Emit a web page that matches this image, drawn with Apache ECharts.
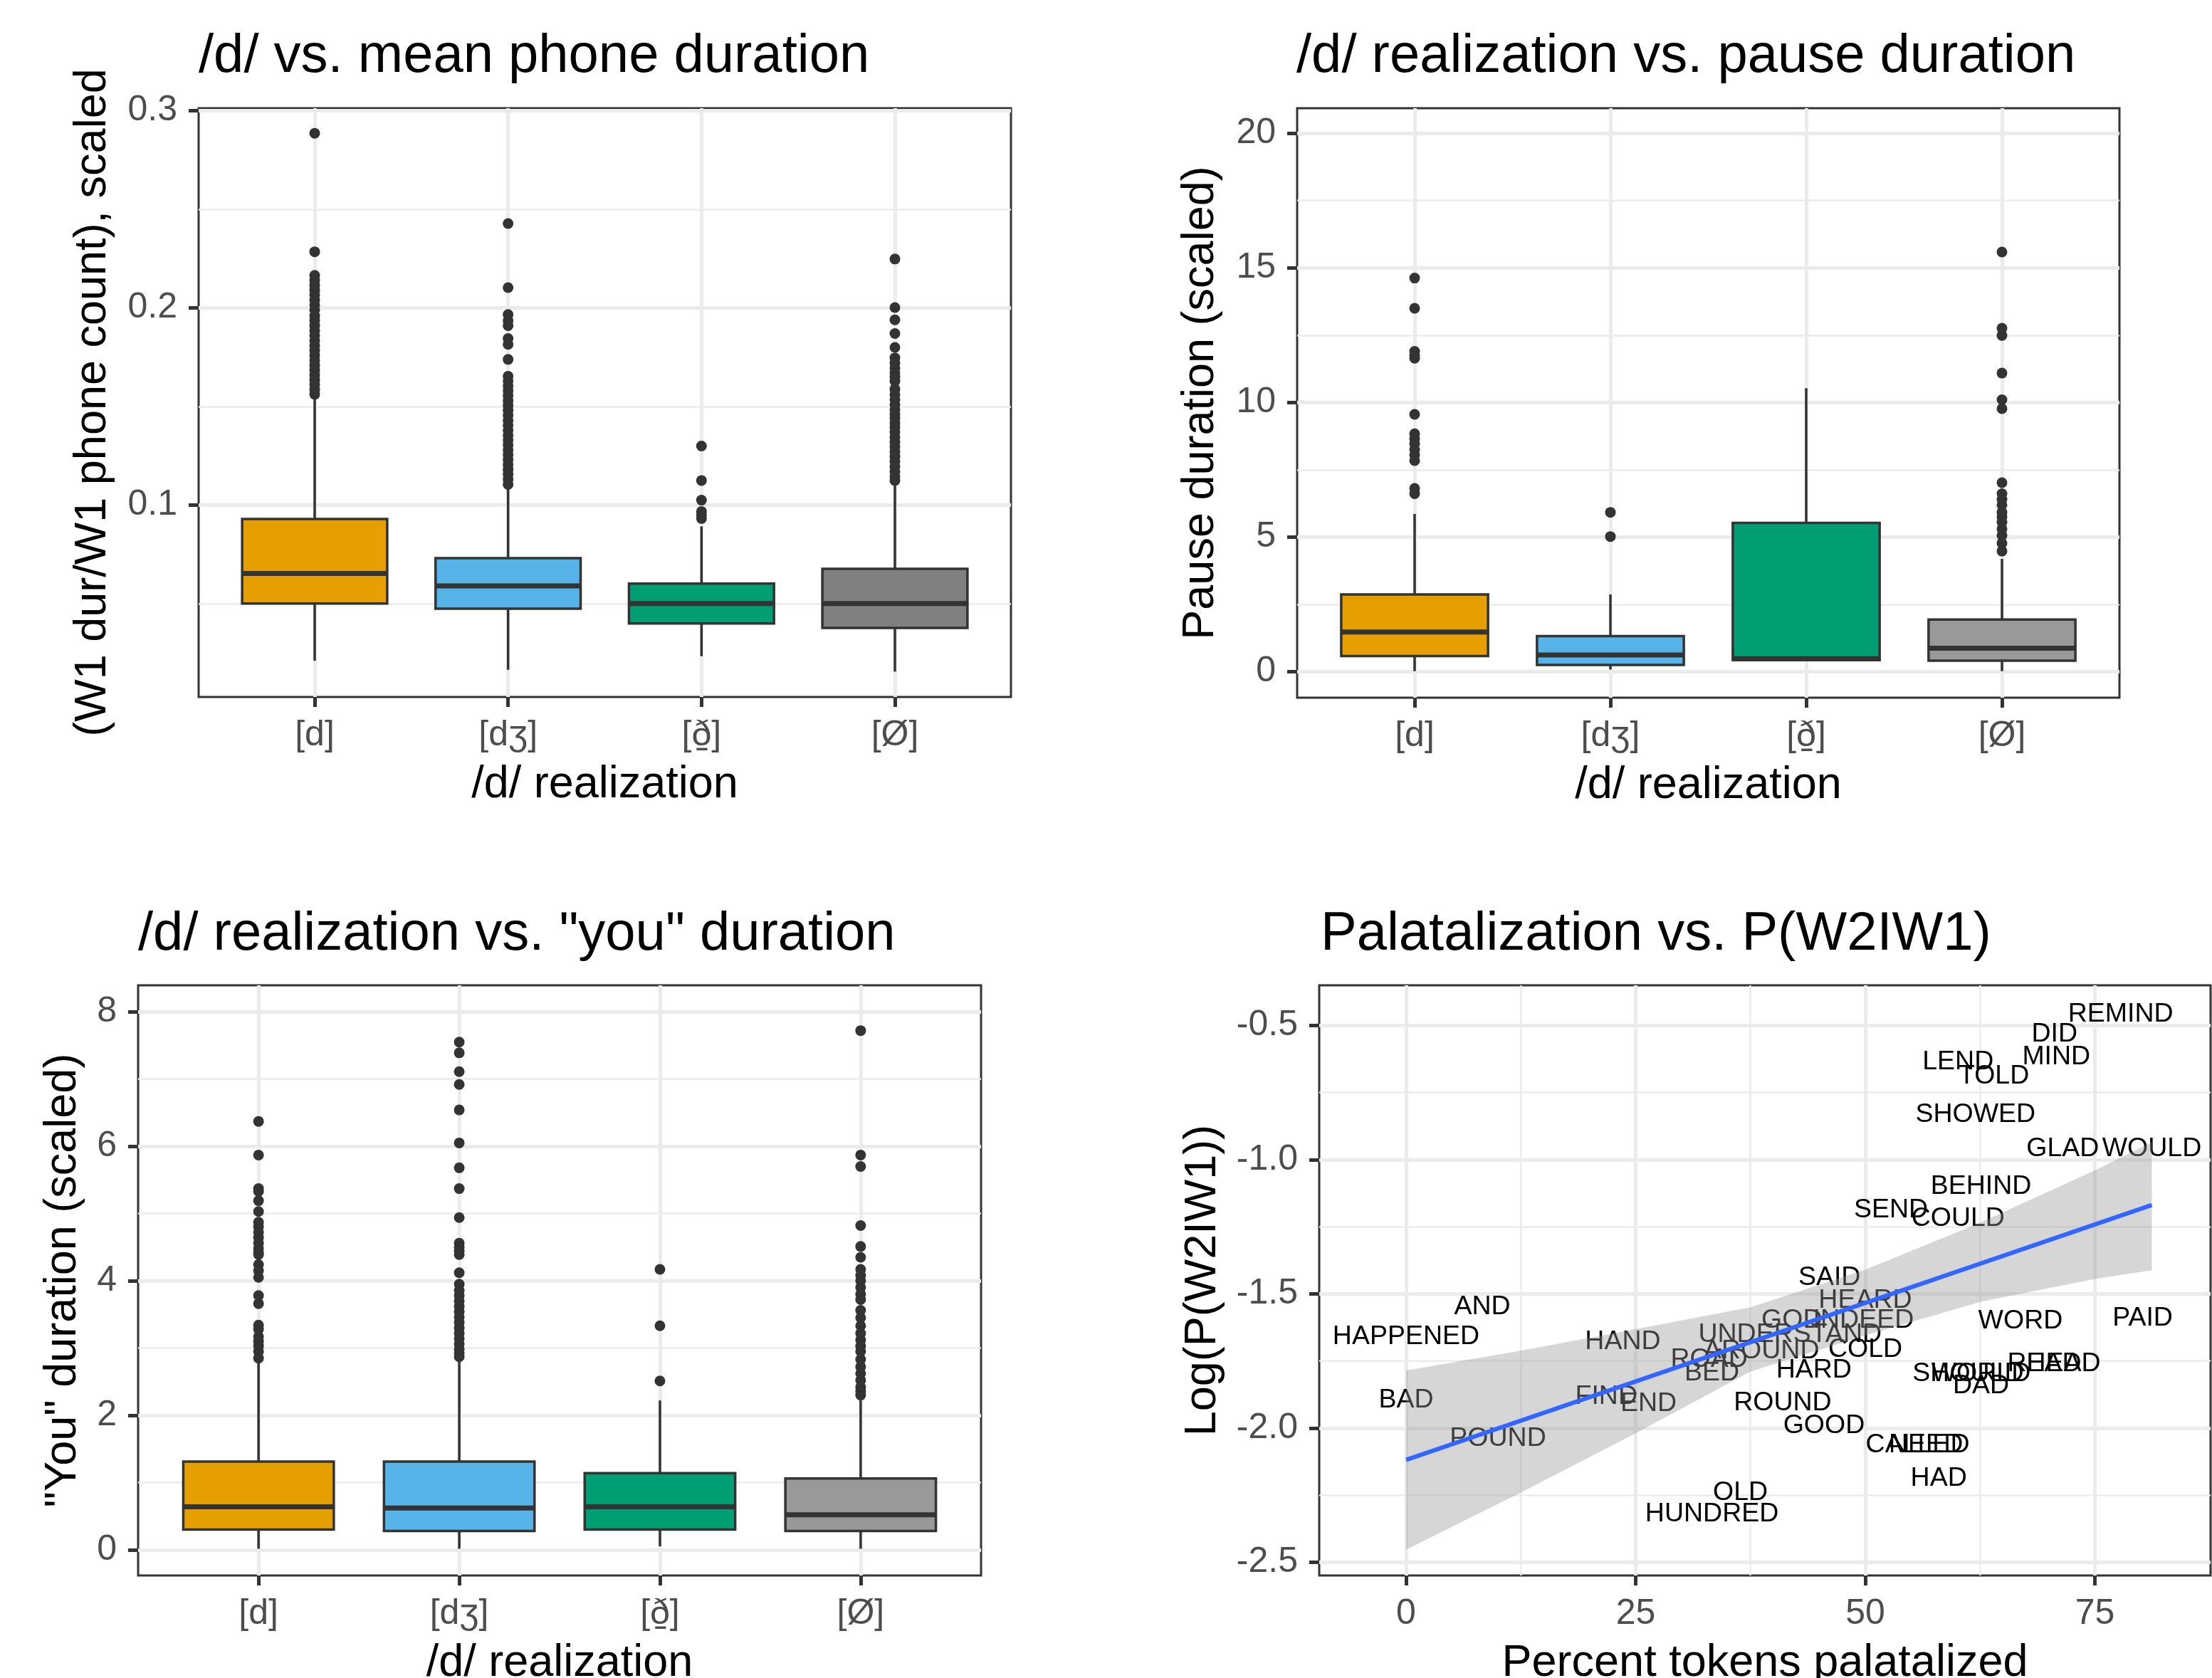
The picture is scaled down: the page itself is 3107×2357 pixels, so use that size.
<!DOCTYPE html>
<html>
<head>
<meta charset="utf-8">
<title>/d/ realization</title>
<script src="https://cdn.jsdelivr.net/npm/echarts@6/dist/echarts.min.js"></script>
<style>
    html, body { margin: 0; padding: 0; background: #fff; }
    #main { width: 3107px; height: 2357px; }
</style>
</head>
<body>
<div id="main"></div>
<script>
// categories of the /d/ realization
var categories = ['[d]', '[dʒ]', '[ð̠]', '[Ø]'];
var catPos = [1, 2, 3, 4];

// box stats per category: [lower whisker, Q1, median, Q3, upper whisker]
var durStats = [
    [0.0211, 0.0501, 0.0653, 0.0930, 0.1536],
    [0.0165, 0.0475, 0.0590, 0.0731, 0.1082],
    [0.0234, 0.0400, 0.0501, 0.0602, 0.0892],
    [0.0156, 0.0377, 0.0501, 0.0677, 0.1113]
];
var durOut = [
    [0.2886, 0.2285, 0.2165, 0.2140, 0.2115, 0.2090, 0.2065, 0.2040, 0.2015, 0.1990, 0.1960, 0.1935, 0.1910, 0.1885,
     0.1860, 0.1835, 0.1810, 0.1785, 0.1760, 0.1735, 0.1710, 0.1685, 0.1660, 0.1635, 0.1610, 0.1585, 0.1562],
    [0.2428, 0.2103, 0.1967, 0.1935, 0.1910, 0.1845, 0.1815, 0.1739, 0.1654, 0.1630, 0.1605, 0.1580, 0.1555, 0.1530,
     0.1505, 0.1480, 0.1455, 0.1430, 0.1405, 0.1380, 0.1355, 0.1330, 0.1305, 0.1280, 0.1255, 0.1230, 0.1205, 0.1180,
     0.1155, 0.1130, 0.1105],
    [0.1300, 0.1125, 0.1025, 0.0968, 0.0950, 0.0932],
    [0.2248, 0.2002, 0.1940, 0.1870, 0.1800, 0.1747, 0.1720, 0.1695, 0.1670, 0.1650, 0.1628, 0.1588, 0.1560, 0.1535,
     0.1510, 0.1485, 0.1460, 0.1442, 0.1417, 0.1395, 0.1370, 0.1345, 0.1320, 0.1295, 0.1270, 0.1245, 0.1220, 0.1195,
     0.1170, 0.1145, 0.1125]
];

var pauseStats = [
    [0.02, 0.58, 1.475, 2.87, 5.86],
    [0.08, 0.25, 0.62, 1.32, 2.87],
    [0.43, 0.43, 0.48, 5.53, 10.53],
    [0.02, 0.41, 0.87, 1.94, 4.19]
];
var pauseOut = [
    [14.62, 13.50, 11.90, 11.75, 11.64, 9.56, 8.84, 8.65, 8.46, 8.25, 8.05, 7.84, 6.81, 6.61],
    [5.92, 5.02],
    [],
    [15.59, 12.76, 12.49, 11.09, 10.10, 9.77, 7.02, 6.61, 6.40, 6.19, 5.92, 5.75, 5.55, 5.30, 5.06, 4.77, 4.48]
];

var youStats = [
    [0.015, 0.30, 0.64, 1.31, 2.79],
    [0.015, 0.28, 0.62, 1.31, 2.83],
    [0.05, 0.30, 0.64, 1.14, 2.22],
    [0.015, 0.28, 0.52, 1.06, 2.22]
];
var youOut = [
    [6.37, 5.87, 5.37, 5.33, 5.19, 5.03, 4.87, 4.80, 4.72, 4.64, 4.56, 4.48, 4.42, 4.39, 4.24, 4.15, 4.05, 3.78, 3.66,
     3.34, 3.28, 3.17, 3.10, 3.03, 2.95, 2.85],
    [7.55, 7.39, 7.11, 6.92, 6.54, 6.05, 5.68, 5.37, 4.94, 4.56, 4.50, 4.44, 4.39, 4.12, 3.95, 3.86, 3.78, 3.70, 3.62,
     3.54, 3.46, 3.38, 3.30, 3.22, 3.14, 3.06, 2.98, 2.92, 2.87],
    [4.17, 3.33, 2.51],
    [7.72, 5.87, 5.70, 4.82, 4.51, 4.35, 4.17, 4.08, 4.00, 3.90, 3.80, 3.72, 3.56, 3.45, 3.33, 3.22, 3.12, 3.03, 2.95,
     2.83, 2.72, 2.62, 2.52, 2.42, 2.36, 2.30]
];

// palatalization panel: word labels
var words = ['REMIND', 'DID', 'MIND', 'LEND', 'TOLD', 'SHOWED', 'GLAD', 'WOULD', 'BEHIND', 'SEND', 'COULD',
    'SAID', 'HEARD', 'GOD', 'INDEED', 'UNDERSTAND', 'AROUND', 'ROAD', 'COLD', 'BED', 'HARD', 'WORD', 'PAID',
    'READ', 'HEAD', 'SHOULD', 'WORLD', 'DAD', 'HAPPENED', 'AND', 'HAND', 'BAD', 'FIND', 'END', 'POUND',
    'ROUND', 'GOOD', 'CALLED', 'NEED', 'HAD', 'OLD', 'HUNDRED'];
var wordX = [77.8, 70.6, 70.8, 60.1, 64.0, 62.0, 71.5, 81.2, 62.6, 52.8, 60.1,
    46.1, 50.0, 42.0, 49.8, 41.8, 38.7, 33.0, 50.0, 33.3, 44.4, 66.9, 80.2,
    69.5, 71.6, 61.2, 62.6, 62.6, 0.0, 8.3, 23.6, 0.0, 21.8, 26.4, 10.0,
    41.0, 45.5, 55.7, 56.6, 58.0, 36.4, 33.3];
var wordY = [-0.450, -0.525, -0.609, -0.628, -0.680, -0.823, -0.951, -0.951, -1.091, -1.180, -1.212,
    -1.432, -1.516, -1.591, -1.591, -1.644, -1.706, -1.737, -1.701, -1.788, -1.777, -1.595, -1.582,
    -1.752, -1.752, -1.790, -1.790, -1.834, -1.653, -1.540, -1.672, -1.889, -1.876, -1.902, -2.031,
    -1.900, -1.985, -2.056, -2.056, -2.179, -2.232, -2.314];

// fitted line and its confidence band
var fitX = [0, 81.2];
var fitY = [-2.119, -1.169];
var bandX = [0, 12.5, 25, 37.5, 50, 62.5, 75, 81.2];
var bandLow = [-2.454, -2.241, -2.020, -1.790, -1.655, -1.530, -1.445, -1.412];
var bandHigh = [-1.786, -1.712, -1.632, -1.550, -1.410, -1.235, -1.040, -0.935];

// tick values
var durTicks = [0.1, 0.2, 0.3], durMinor = [0.05, 0.15, 0.25];
var pauseTicks = [0, 5, 10, 15, 20], pauseMinor = [2.5, 7.5, 12.5, 17.5];
var youTicks = [0, 2, 4, 6, 8], youMinor = [1, 3, 5, 7];
var palTicksX = [0, 25, 50, 75], palMinorX = [12.5, 37.5, 62.5];
var palTicksY = [-2.5, -2.0, -1.5, -1.0, -0.5], palMinorY = [-2.25, -1.75, -1.25, -0.75];

var FONT = 'Liberation Sans, Arial, Helvetica, sans-serif';
var fills1 = ['#E69F00', '#56B4E9', '#009E73', '#808080'];
var fills2 = ['#E69F00', '#56B4E9', '#009E73', '#999999'];

function mainAxis(gi, min, max, ticks, pos, fmt) {
    return {
        type: 'value', gridIndex: gi, min: min, max: max, position: pos,
        axisLine: {show: false, onZero: false},
        axisTick: {show: true, customValues: ticks, length: 14, lineStyle: {color: '#333333', width: 5}},
        axisLabel: {show: true, customValues: ticks, formatter: fmt, color: '#4D4D4D', fontSize: 50,
            fontFamily: FONT, margin: pos == 'left' ? 30 : 29},
        splitLine: {show: true, lineStyle: {color: '#EBEBEB', width: 5}},
        nameLocation: 'middle',
        nameTextStyle: {fontSize: 63, color: '#000', fontFamily: FONT}
    };
}
function minorAxis(gi, min, max, ticks, pos) {
    return {
        type: 'value', gridIndex: gi, min: min, max: max, position: pos,
        axisLine: {show: false, onZero: false},
        axisTick: {show: false, customValues: ticks},
        axisLabel: {show: false},
        splitLine: {show: true, lineStyle: {color: '#EBEBEB', width: 2.5}}
    };
}
function catFmt(v) { return categories[Math.round(v) - 1]; }
function withName(ax, name, gap) { ax.name = name; ax.nameGap = gap; return ax; }

/*box with whiskers, drawn through the axes*/
function boxSeries(gi, stats, fills) {
    return {
        type: 'custom', xAxisIndex: gi, yAxisIndex: gi, z: 2, silent: true,
        data: stats.map(function (s, i) { return [catPos[i]].concat(s); }),
        encode: {x: 0, y: [1, 2, 3, 4, 5]},
        renderItem: function (params, api) {
            var x = api.value(0);
            var lo = api.coord([x, api.value(1)]);
            var q1 = api.coord([x, api.value(2)]);
            var md = api.coord([x, api.value(3)]);
            var q3 = api.coord([x, api.value(4)]);
            var hi = api.coord([x, api.value(5)]);
            var w = api.size([0.75, 0])[0];
            var line = {stroke: '#333333', lineWidth: 3.5};
            return {
                type: 'group',
                children: [
                    {type: 'line', shape: {x1: lo[0], y1: lo[1], x2: q1[0], y2: q1[1]}, style: line},
                    {type: 'line', shape: {x1: q3[0], y1: q3[1], x2: hi[0], y2: hi[1]}, style: line},
                    {type: 'rect', shape: {x: q3[0] - w / 2, y: q3[1], width: w, height: q1[1] - q3[1]},
                        style: {fill: fills[params.dataIndex], stroke: '#333333', lineWidth: 3.5}},
                    {type: 'line', shape: {x1: md[0] - w / 2, y1: md[1], x2: md[0] + w / 2, y2: md[1]},
                        style: {stroke: '#333333', lineWidth: 7}}
                ]
            };
        }
    };
}
function outlierSeries(gi, out) {
    var pts = [];
    out.forEach(function (list, i) {
        list.forEach(function (v) { pts.push([catPos[i], v]); });
    });
    return {
        type: 'scatter', xAxisIndex: gi, yAxisIndex: gi, z: 3, silent: true,
        data: pts, symbolSize: 15, itemStyle: {color: '#333333', opacity: 1}
    };
}

var chart = echarts.init(document.getElementById('main'));
var gridBase = {show: true, borderColor: '#333333', borderWidth: 3, backgroundColor: '#fff',
    containLabel: false, outerBoundsMode: 'none'};

var option = {
    animation: false,
    textStyle: {fontFamily: FONT},
    title: [
        {text: '/d/ vs. mean phone duration', left: 279, top: 42},
        {text: '/d/ realization vs. pause duration', left: 1821, top: 42},
        {text: '/d/ realization vs. "you" duration', left: 194, top: 1275},
        {text: 'Palatalization vs. P(W2IW1)', left: 1855, top: 1275}
    ].map(function (t) {
        t.padding = 0;
        t.textStyle = {fontSize: 76, fontWeight: 'normal', color: '#000', fontFamily: FONT};
        return t;
    }),
    grid: [
        Object.assign({left: 279, top: 152, width: 1141, height: 827}, gridBase),
        Object.assign({left: 1822, top: 152, width: 1155, height: 828}, gridBase),
        Object.assign({left: 194, top: 1384, width: 1184, height: 829}, gridBase),
        Object.assign({left: 1853, top: 1384, width: 1252, height: 829}, gridBase)
    ],
    xAxis: [
        withName(mainAxis(0, 0.4, 4.6, catPos, 'bottom', catFmt), '/d/ realization', 92),
        withName(mainAxis(1, 0.4, 4.6, catPos, 'bottom', catFmt), '/d/ realization', 92),
        withName(mainAxis(2, 0.4, 4.6, catPos, 'bottom', catFmt), '/d/ realization', 92),
        withName(mainAxis(3, -9.46, 87.6, palTicksX, 'bottom', function (v) { return String(v); }),
            'Percent tokens palatalized', 92),
        minorAxis(3, -9.46, 87.6, palMinorX, 'top')
    ],
    yAxis: [
        withName(mainAxis(0, 0.0027, 0.3013, durTicks, 'left', function (v) { return v.toFixed(1); }),
            '(W1 dur/W1 phone count), scaled', 117),
        withName(mainAxis(1, -0.965, 20.93, pauseTicks, 'left', function (v) { return String(v); }),
            'Pause duration (scaled)', 104),
        withName(mainAxis(2, -0.383, 8.394, youTicks, 'left', function (v) { return String(v); }),
            '"You" duration (scaled)', 74),
        withName(mainAxis(3, -2.55, -0.35, palTicksY, 'left', function (v) { return v.toFixed(1); }),
            'Log(P(W2IW1))', 132),
        minorAxis(0, 0.0027, 0.3013, durMinor, 'right'),
        minorAxis(1, -0.965, 20.93, pauseMinor, 'right'),
        minorAxis(2, -0.383, 8.394, youMinor, 'right'),
        minorAxis(3, -2.55, -0.35, palMinorY, 'right')
    ],
    series: [
        boxSeries(0, durStats, fills1), outlierSeries(0, durOut),
        boxSeries(1, pauseStats, fills2), outlierSeries(1, pauseOut),
        boxSeries(2, youStats, fills2), outlierSeries(2, youOut),
        // word labels
        {
            type: 'custom', xAxisIndex: 3, yAxisIndex: 3, z: 2, silent: true,
            data: words.map(function (w, i) { return [wordX[i], wordY[i]]; }),
            renderItem: function (params, api) {
                var p = api.coord([api.value(0), api.value(1)]);
                return {
                    type: 'text', x: p[0], y: p[1] + 3,
                    style: {text: words[params.dataIndex], align: 'center', verticalAlign: 'middle',
                        fontSize: 37.5, fontFamily: FONT, fill: '#000'}
                };
            }
        },
        // confidence band, over the labels
        {
            type: 'custom', xAxisIndex: 3, yAxisIndex: 3, z: 4, silent: true,
            data: [[bandX[0], bandLow[0]]],
            renderItem: function (params, api) {
                var pts = [], i;
                for (i = 0; i < bandX.length; i++) pts.push(api.coord([bandX[i], bandHigh[i]]));
                for (i = bandX.length - 1; i >= 0; i--) pts.push(api.coord([bandX[i], bandLow[i]]));
                return {type: 'polygon', shape: {points: pts}, style: {fill: 'rgba(153,153,153,0.4)'}};
            }
        },
        {
            type: 'line', xAxisIndex: 3, yAxisIndex: 3, z: 5, silent: true,
            data: fitX.map(function (x, i) { return [x, fitY[i]]; }),
            symbol: 'none', lineStyle: {color: '#3366FF', width: 6}
        }
    ]
};
chart.setOption(option);
</script>
</body>
</html>
